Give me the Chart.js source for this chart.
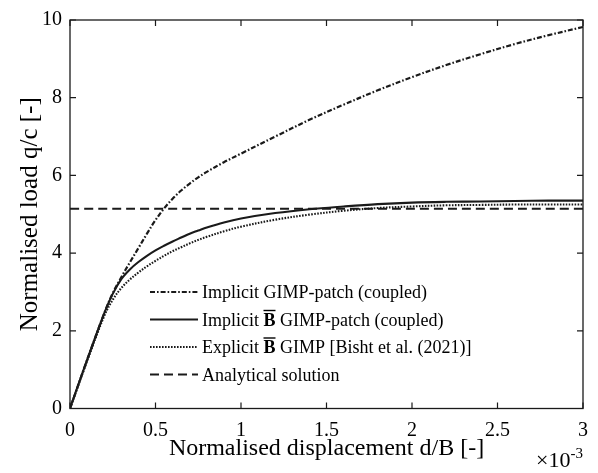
<!DOCTYPE html>
<html lang="en">
<head>
<meta charset="UTF-8">
<title>Normalised load vs displacement</title>
<script src="https://cdn.jsdelivr.net/npm/chart.js"></script>
<style>
  html, body { margin: 0; padding: 0; background: #fff; }
  #wrap { width: 598px; height: 473px; }
</style>
</head>
<body>
<div id="wrap"><canvas id="loadChart" width="598" height="473"></canvas></div>
<script>
// displacement d/B in units of 1e-3
const displacement = [0, 0.1, 0.2, 0.25, 0.3, 0.35, 0.4, 0.45, 0.5, 0.55, 0.6, 0.65, 0.7, 0.75, 0.8, 0.9, 1.0,
                      1.2, 1.4, 1.6, 1.8, 2.0, 2.2, 2.4, 2.6, 2.8, 3.0];
const gimpPatch    = [0, 1.25, 2.45, 2.97, 3.38, 3.76, 4.13, 4.5, 4.85, 5.15, 5.4, 5.61, 5.79, 5.95, 6.09, 6.34, 6.56,
                      7.0, 7.43, 7.82, 8.19, 8.53, 8.84, 9.12, 9.38, 9.61, 9.82];
const bbarPatch    = [0, 1.25, 2.45, 2.95, 3.33, 3.58, 3.77, 3.93, 4.07, 4.19, 4.3, 4.4, 4.5, 4.58, 4.66, 4.79, 4.89,
                      5.03, 5.13, 5.2, 5.26, 5.3, 5.32, 5.33, 5.34, 5.35, 5.35];
const bbarExplicit = [0, 1.22, 2.38, 2.8, 3.1, 3.32, 3.5, 3.66, 3.8, 3.93, 4.05, 4.15, 4.25, 4.34, 4.42, 4.56, 4.68,
                      4.86, 4.99, 5.09, 5.16, 5.2, 5.23, 5.24, 5.25, 5.25, 5.25];
const analyticalX    = [0, 3];
const analyticalLoad = [5.14, 5.14];

const xTicks = [0, 0.5, 1, 1.5, 2, 2.5, 3];
const yTicks = [0, 2, 4, 6, 8, 10];
const seriesLabels = [
    "Implicit GIMP-patch (coupled)",
    "Implicit B\u0304 GIMP-patch (coupled)",
    "Explicit B\u0304 GIMP [Bisht et al. (2021)]",
    "Analytical solution"
];

const serif = "'Liberation Serif', 'DejaVu Serif', serif";
const ink = "#1a1a1a";

function pts(xs, ys) {
    return xs.map((x, i) => ({ x: x, y: ys[i] }));
}

// box frame, inward ticks, exponent and the legend inside the axes
const extras = {
    id: "extras",
    afterDraw(chart) {
        const ctx = chart.ctx;
        const a = chart.chartArea;
        const sx = chart.scales.x, sy = chart.scales.y;
        ctx.save();
        ctx.strokeStyle = ink;
        ctx.lineWidth = 1.3;
        ctx.strokeRect(a.left, a.top, a.right - a.left, a.bottom - a.top);

        ctx.lineWidth = 1.2;
        ctx.beginPath();
        xTicks.forEach(v => {
            const p = sx.getPixelForValue(v);
            ctx.moveTo(p, a.bottom); ctx.lineTo(p, a.bottom - 6);
            ctx.moveTo(p, a.top); ctx.lineTo(p, a.top + 6);
        });
        yTicks.forEach(v => {
            const p = sy.getPixelForValue(v);
            ctx.moveTo(a.left, p); ctx.lineTo(a.left + 6, p);
            ctx.moveTo(a.right, p); ctx.lineTo(a.right - 6, p);
        });
        ctx.stroke();

        // x 10^-3
        ctx.fillStyle = "#000";
        ctx.textBaseline = "alphabetic";
        ctx.textAlign = "left";
        ctx.font = "15px " + serif;
        const supW = ctx.measureText("-3").width;
        ctx.fillText("-3", a.right - supW, 458);
        ctx.font = "22px " + serif;
        const baseW = ctx.measureText("\u00d710").width;
        ctx.fillText("\u00d710", a.right - supW - baseW, 467);

        // legend
        const lx0 = a.left + 80, lx1 = a.left + 128, tx = a.left + 132;
        const rowY = [292, 319.5, 347, 374.5];
        chart.data.datasets.forEach((ds, i) => {
            const y = rowY[i];
            ctx.strokeStyle = ds.borderColor;
            ctx.lineWidth = ds.borderWidth;
            ctx.setLineDash(ds.borderDash || []);
            ctx.beginPath();
            ctx.moveTo(lx0, y); ctx.lineTo(lx1, y);
            ctx.stroke();
            ctx.setLineDash([]);

            const parts = ds.label.split("B\u0304");
            let x = tx;
            const base = y + 6;
            ctx.fillStyle = "#000";
            ctx.font = "18px " + serif;
            ctx.fillText(parts[0], x, base);
            x += ctx.measureText(parts[0]).width;
            if (parts.length > 1) {
                ctx.font = "bold 18px " + serif;
                const bw = ctx.measureText("B").width;
                ctx.fillText("B", x, base);
                ctx.lineWidth = 1.4;
                ctx.strokeStyle = "#000";
                ctx.beginPath();
                ctx.moveTo(x, base - 15); ctx.lineTo(x + bw, base - 15);
                ctx.stroke();
                x += bw;
                ctx.font = "18px " + serif;
                ctx.fillText(parts[1], x, base);
            }
        });
        ctx.restore();
    }
};

const ctx = document.getElementById("loadChart").getContext("2d");
new Chart(ctx, {
    type: "line",
    data: {
        datasets: [
            { label: seriesLabels[0], data: pts(displacement, gimpPatch),
              borderColor: ink, borderWidth: 2.2, borderDash: [5, 2, 1.6, 2] },
            { label: seriesLabels[1], data: pts(displacement, bbarPatch),
              borderColor: ink, borderWidth: 2.1 },
            { label: seriesLabels[2], data: pts(displacement, bbarExplicit),
              borderColor: ink, borderWidth: 2.1, borderDash: [1.6, 1.4] },
            { label: seriesLabels[3], data: pts(analyticalX, analyticalLoad),
              borderColor: ink, borderWidth: 2.1, borderDash: [9, 5] }
        ]
    },
    options: {
        responsive: false,
        animation: false,
        events: [],
        elements: { point: { radius: 0 }, line: { tension: 0.35 } },
        layout: { padding: { top: 15, right: 13, left: 0, bottom: 0 } },
        plugins: { legend: { display: false }, tooltip: { enabled: false } },
        scales: {
            x: {
                type: "linear",
                min: 0, max: 3,
                afterBuildTicks: s => { s.ticks = xTicks.map(v => ({ value: v })); },
                afterFit: s => { s.height = 64.5; },
                grid: { display: false, drawTicks: false },
                border: { display: false },
                ticks: { color: "#000", padding: 10, font: { family: serif, size: 20 },
                         callback: v => String(v) },
                title: { display: true, text: "Normalised displacement d/B [-]", color: "#000",
                         font: { family: serif, size: 24 }, padding: { top: 0, bottom: 10 } }
            },
            y: {
                type: "linear",
                min: 0, max: 10,
                afterBuildTicks: s => { s.ticks = yTicks.map(v => ({ value: v })); },
                afterFit: s => { s.width = 70; },
                grid: { display: false, drawTicks: false },
                border: { display: false },
                ticks: { color: "#000", padding: 8, font: { family: serif, size: 20 },
                         callback: v => String(v) },
                title: { display: true, text: "Normalised load q/c [-]", color: "#000",
                         font: { family: serif, size: 25 }, padding: { top: 15, bottom: 0 } }
            }
        }
    },
    plugins: [extras]
});
</script>
</body>
</html>
